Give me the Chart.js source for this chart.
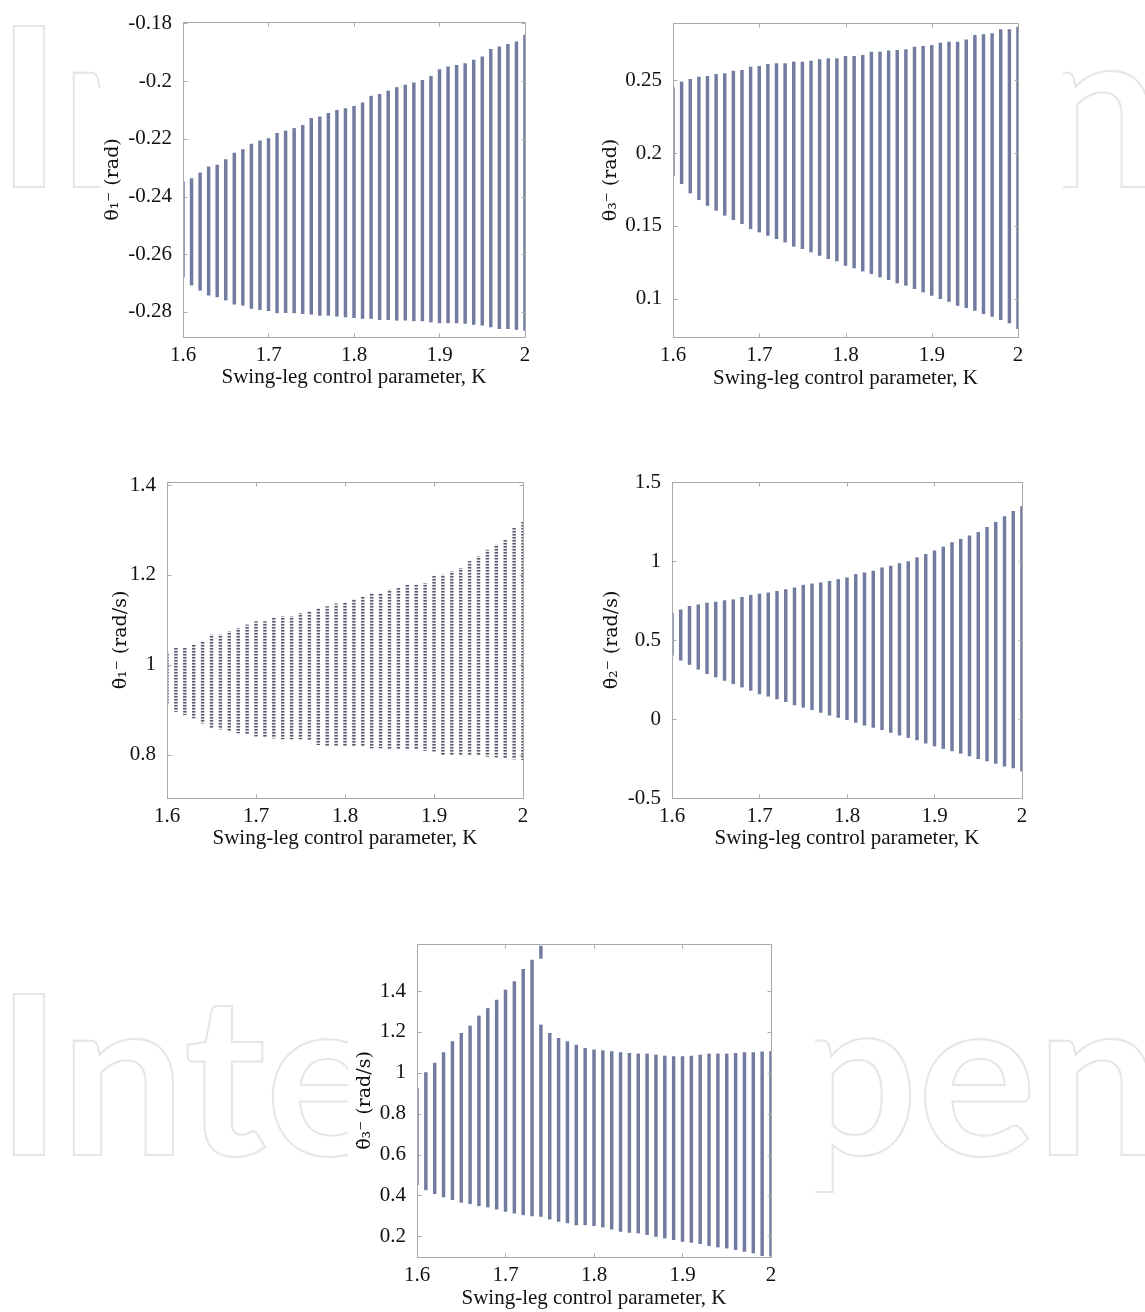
<!DOCTYPE html>
<html>
<head>
<meta charset="utf-8">
<script src="https://cdn.jsdelivr.net/npm/chart.js@4.4.1/dist/chart.umd.min.js"></script>
<style>
  html, body { margin: 0; padding: 0; background: #fff; }
  body { width: 1145px; height: 1312px; position: relative; overflow: hidden; }
  #mark { position: absolute; left: 0; top: 0; }
  #mark text { font-family: Lato, 'Open Sans', sans-serif; font-size: 222px; font-weight: 700;
               fill: none; stroke: #e6e6e6; stroke-width: 2; }
  .sheet { position: absolute; background: #fff; }
  canvas { position: absolute; }
</style>
</head>
<body>
<svg id="mark" width="1145" height="1312">
  <text x="-4" y="187">IntechOpen</text>
  <text x="-4" y="1155">IntechOpen</text>
</svg>
<div class="sheet" style="left:100px;top:0;width:963px;height:410px"></div>
<div class="sheet" style="left:348px;top:925px;width:467px;height:387px"></div>
<canvas id="c1"></canvas>
<canvas id="c2"></canvas>
<canvas id="c3"></canvas>
<canvas id="c4"></canvas>
<canvas id="c5"></canvas>
<script>
// swing-leg control parameter K (x values, same for every panel)
const K = [1.60, 1.61, 1.62, 1.63, 1.64, 1.65, 1.66, 1.67, 1.68, 1.69,
           1.70, 1.71, 1.72, 1.73, 1.74, 1.75, 1.76, 1.77, 1.78, 1.79,
           1.80, 1.81, 1.82, 1.83, 1.84, 1.85, 1.86, 1.87, 1.88, 1.89,
           1.90, 1.91, 1.92, 1.93, 1.94, 1.95, 1.96, 1.97, 1.98, 1.99, 2.00];
const xTicks = [1.6, 1.7, 1.8, 1.9, 2];

// theta1 (rad): lower / upper end of each vertical line
const th1Lo = [-0.2679, -0.2707, -0.2725, -0.2742, -0.2748, -0.2759, -0.2773, -0.2777, -0.2788, -0.2792,
               -0.2796, -0.2803, -0.2803, -0.2803, -0.2806, -0.2808, -0.2812, -0.2812, -0.2815, -0.2817,
               -0.2820, -0.2823, -0.2823, -0.2827, -0.2827, -0.2829, -0.2829, -0.2831, -0.2831, -0.2835,
               -0.2838, -0.2838, -0.2838, -0.2840, -0.2843, -0.2846, -0.2852, -0.2858, -0.2858, -0.2861, -0.2864];
const th1Hi = [-0.2349, -0.2338, -0.2318, -0.2297, -0.2291, -0.2272, -0.2249, -0.2237, -0.2218, -0.2207,
               -0.2199, -0.2181, -0.2173, -0.2164, -0.2153, -0.2129, -0.2124, -0.2112, -0.2101, -0.2095,
               -0.2087, -0.2075, -0.2052, -0.2046, -0.2034, -0.2022, -0.2014, -0.2006, -0.1997, -0.1983,
               -0.1960, -0.1950, -0.1945, -0.1939, -0.1927, -0.1916, -0.1890, -0.1881, -0.1872, -0.1864, -0.1840];
const th1Ticks = [-0.28, -0.26, -0.24, -0.22, -0.2, -0.18];

// theta3 (rad)
const th3Lo = [0.1847, 0.1790, 0.1726, 0.1680, 0.1641, 0.1607, 0.1573, 0.1543, 0.1515, 0.1481,
               0.1458, 0.1435, 0.1412, 0.1389, 0.1360, 0.1344, 0.1321, 0.1298, 0.1275, 0.1259,
               0.1229, 0.1211, 0.1190, 0.1172, 0.1149, 0.1131, 0.1108, 0.1092, 0.1069, 0.1046,
               0.1023, 0.1000, 0.0982, 0.0954, 0.0938, 0.0920, 0.0897, 0.0879, 0.0856, 0.0833, 0.0794];
const th3Hi = [0.2450, 0.2489, 0.2507, 0.2523, 0.2527, 0.2541, 0.2546, 0.2564, 0.2569, 0.2592,
               0.2596, 0.2610, 0.2615, 0.2615, 0.2626, 0.2626, 0.2633, 0.2642, 0.2649, 0.2649,
               0.2665, 0.2665, 0.2672, 0.2695, 0.2695, 0.2702, 0.2706, 0.2711, 0.2729, 0.2734,
               0.2740, 0.2756, 0.2763, 0.2763, 0.2779, 0.2809, 0.2814, 0.2821, 0.2848, 0.2848, 0.2866];
const th3Ticks = [0.1, 0.15, 0.2, 0.25];

// d theta1 (rad/s)
const dth1Lo = [0.9147, 0.8961, 0.8887, 0.8813, 0.8702, 0.8591, 0.8569, 0.8517, 0.8480, 0.8465,
                0.8406, 0.8391, 0.8369, 0.8347, 0.8347, 0.8347, 0.8332, 0.8221, 0.8198, 0.8198,
                0.8198, 0.8183, 0.8183, 0.8146, 0.8146, 0.8124, 0.8124, 0.8109, 0.8109, 0.8094,
                0.8072, 0.7998, 0.7998, 0.7976, 0.7976, 0.7976, 0.7961, 0.7946, 0.7924, 0.7902, 0.7887];
const dth1Hi = [1.0273, 1.0369, 1.0369, 1.0443, 1.0517, 1.0666, 1.0666, 1.0740, 1.0814, 1.0888,
                1.0962, 1.0962, 1.1036, 1.1073, 1.1073, 1.1147, 1.1184, 1.1258, 1.1295, 1.1355,
                1.1384, 1.1458, 1.1518, 1.1592, 1.1592, 1.1666, 1.1703, 1.1777, 1.1777, 1.1814,
                1.1977, 1.2000, 1.2073, 1.2147, 1.2296, 1.2407, 1.2555, 1.2666, 1.2777, 1.3037, 1.3185];
const dth1Ticks = [0.8, 1, 1.2, 1.4];

// d theta2 (rad/s)
const dth2Lo = [0.404, 0.372, 0.345, 0.315, 0.287, 0.266, 0.244, 0.223, 0.202, 0.181,
                0.159, 0.144, 0.127, 0.110, 0.089, 0.074, 0.059, 0.042, 0.025, 0.010,
                -0.004, -0.022, -0.039, -0.053, -0.068, -0.085, -0.102, -0.117, -0.132, -0.153,
                -0.170, -0.187, -0.202, -0.217, -0.234, -0.251, -0.266, -0.281, -0.298, -0.309, -0.330];
const dth2Hi = [0.670, 0.691, 0.713, 0.723, 0.734, 0.740, 0.749, 0.755, 0.770, 0.783,
                0.791, 0.798, 0.808, 0.819, 0.830, 0.847, 0.855, 0.862, 0.872, 0.883,
                0.894, 0.915, 0.925, 0.936, 0.957, 0.968, 0.983, 0.996, 1.021, 1.042,
                1.064, 1.089, 1.117, 1.138, 1.160, 1.181, 1.213, 1.245, 1.281, 1.315, 1.345];
const dth2Ticks = [-0.5, 0, 0.5, 1, 1.5];

// d theta3 (rad/s)
const dth3Lo = [0.452, 0.427, 0.408, 0.392, 0.379, 0.366, 0.359, 0.349, 0.343, 0.333,
                0.322, 0.313, 0.305, 0.300, 0.297, 0.284, 0.273, 0.265, 0.256, 0.256,
                0.252, 0.245, 0.235, 0.224, 0.219, 0.216, 0.208, 0.199, 0.191, 0.183,
                0.175, 0.170, 0.164, 0.154, 0.147, 0.142, 0.134, 0.126, 0.118, 0.105, 0.102];
const dth3Hi = [0.924, 1.001, 1.047, 1.099, 1.152, 1.193, 1.229, 1.278, 1.315, 1.356,
                1.405, 1.446, 1.506, 1.551, 1.234, 1.193, 1.169, 1.152, 1.136, 1.120,
                1.112, 1.108, 1.104, 1.099, 1.095, 1.092, 1.092, 1.087, 1.082, 1.079,
                1.079, 1.082, 1.087, 1.092, 1.092, 1.092, 1.095, 1.099, 1.099, 1.102, 1.104];
// separate short piece near the top at K = 1.74
const dth3ExtraK = [1.74];
const dth3ExtraLo = [1.56];
const dth3ExtraHi = [1.62];
const dth3Ticks = [0.2, 0.4, 0.6, 0.8, 1, 1.2, 1.4];

const FONT = "'Liberation Serif', 'Times New Roman', 'DejaVu Serif', serif";
const TFONT = "'DejaVu Serif', 'Liberation Serif', serif";
const BAR = '#717a9f';
const XLABEL = 'Swing-leg control parameter, K';

function ranges(xs, lo, hi) {
    return xs.map((k, i) => ({ x: k, y: [lo[i], hi[i]] }));
}

// dotted look of the middle-left panel
function dotPattern() {
    const c = document.createElement('canvas');
    c.width = 4; c.height = 3;
    const g = c.getContext('2d');
    g.fillStyle = '#ececf0'; g.fillRect(0, 0, 4, 3);
    g.fillStyle = '#9a9cab'; g.fillRect(0, 1, 4, 1);
    g.fillStyle = '#555869'; g.fillRect(0, 0, 4, 1);
    return g.createPattern(c, 'repeat');
}

// box round the plot plus small inward ticks
const frame = {
    id: 'frame',
    afterDraw(chart) {
        const { ctx, chartArea: a, scales: { x, y } } = chart;
        const L = Math.round(a.left) + 0.5, R = Math.round(a.right) + 0.5;
        const T = Math.round(a.top) + 0.5, B = Math.round(a.bottom) + 0.5;
        ctx.save();
        ctx.strokeStyle = '#aaaaaa';
        ctx.lineWidth = 1;
        ctx.strokeRect(L, T, R - L, B - T);
        ctx.beginPath();
        x.ticks.forEach(t => {
            const px = Math.round(x.getPixelForValue(t.value)) + 0.5;
            ctx.moveTo(px, B); ctx.lineTo(px, B - 4);
            ctx.moveTo(px, T); ctx.lineTo(px, T + 4);
        });
        y.ticks.forEach(t => {
            const py = Math.round(y.getPixelForValue(t.value)) + 0.5;
            ctx.moveTo(L, py); ctx.lineTo(L + 4, py);
            ctx.moveTo(R, py); ctx.lineTo(R - 4, py);
        });
        ctx.stroke();
        ctx.restore();
    }
};

function fmt(v) { return String(+(+v).toFixed(4)); }

function panel(id, p) {
    const cv = document.getElementById(id);
    const W = p.cr - p.cl, H = p.cb - p.ct;
    cv.width = W; cv.height = H;
    cv.style.left = p.cl + 'px'; cv.style.top = p.ct + 'px';
    cv.style.width = W + 'px'; cv.style.height = H + 'px';
    const half = 21 * 1.2 / 2, yhalf = 19 * 1.2 / 2;
    const yAxisW = p.l - p.cl, xAxisH = p.cb - p.b;

    new Chart(cv, {
        type: 'bar',
        data: { datasets: p.sets },
        options: {
            responsive: false,
            animation: false,
            events: [],
            layout: { padding: { left: 0, top: p.t - p.ct, right: p.cr - p.r, bottom: 0 } },
            plugins: { legend: { display: false }, tooltip: { enabled: false } },
            datasets: { bar: { barThickness: 2.8, grouped: false, borderWidth: 0 } },
            scales: {
                x: {
                    type: 'linear', offset: false, min: 1.6, max: 2,
                    grid: { display: false, offset: false }, border: { display: false },
                    afterBuildTicks: s => { s.ticks = xTicks.map(v => ({ value: v })); },
                    afterFit: s => { s.height = xAxisH; },
                    ticks: { padding: -2, color: '#111', font: { family: FONT, size: 21 }, callback: fmt, maxRotation: 0, autoSkip: false },
                    title: { display: true, text: XLABEL, color: '#111', font: { family: FONT, size: 21 },
                             padding: { top: 0, bottom: Math.max(0, p.cb - p.xt - half) } }
                },
                y: {
                    min: p.ymin, max: p.ymax, beginAtZero: false,
                    grid: { display: false }, border: { display: false },
                    afterBuildTicks: s => { s.ticks = p.yt.map(v => ({ value: v })); },
                    afterFit: s => { s.width = yAxisW; },
                    ticks: { padding: 3, color: '#111', font: { family: FONT, size: 21 }, callback: fmt, autoSkip: false },
                    title: { display: true, text: p.ylabel, color: '#111', font: { family: TFONT, size: 19 },
                             padding: { top: Math.max(0, p.yc - p.cl - yhalf), bottom: 0 } }
                }
            }
        },
        plugins: [frame]
    });
}

panel('c1', { cl: 100, ct: 5, cr: 545, cb: 395, l: 183, t: 22, r: 525, b: 337, yc: 113, xt: 377,
    ymin: -0.2887, ymax: -0.1795, yt: th1Ticks, ylabel: 'θ₁⁻ (rad)',
    sets: [{ data: ranges(K, th1Lo, th1Hi), backgroundColor: BAR }] });

panel('c2', { cl: 599, ct: 5, cr: 1063, cb: 395, l: 673, t: 23, r: 1018, b: 337, yc: 611, xt: 378,
    ymin: 0.0737, ymax: 0.2894, yt: th3Ticks, ylabel: 'θ₃⁻ (rad)',
    sets: [{ data: ranges(K, th3Lo, th3Hi), backgroundColor: BAR }] });

panel('c3', { cl: 100, ct: 465, cr: 545, cb: 860, l: 167, t: 482, r: 523, b: 798, yc: 121, xt: 838,
    ymin: 0.7035, ymax: 1.407, yt: dth1Ticks, ylabel: 'θ̇₁⁻ (rad/s)',
    sets: [{ data: ranges(K, dth1Lo, dth1Hi), backgroundColor: dotPattern() }] });

panel('c4', { cl: 590, ct: 465, cr: 1063, cb: 860, l: 672, t: 482, r: 1022, b: 798, yc: 612, xt: 838,
    ymin: -0.5, ymax: 1.5, yt: dth2Ticks, ylabel: 'θ̇₂⁻ (rad/s)',
    sets: [{ data: ranges(K, dth2Lo, dth2Hi), backgroundColor: BAR }] });

panel('c5', { cl: 348, ct: 925, cr: 815, cb: 1312, l: 417, t: 944, r: 771, b: 1257, yc: 365, xt: 1298,
    ymin: 0.0985, ymax: 1.63, yt: dth3Ticks, ylabel: 'θ̇₃⁻ (rad/s)',
    sets: [{ data: ranges(K, dth3Lo, dth3Hi), backgroundColor: BAR },
           { data: ranges(dth3ExtraK, dth3ExtraLo, dth3ExtraHi), backgroundColor: BAR }] });
</script>
</body>
</html>
